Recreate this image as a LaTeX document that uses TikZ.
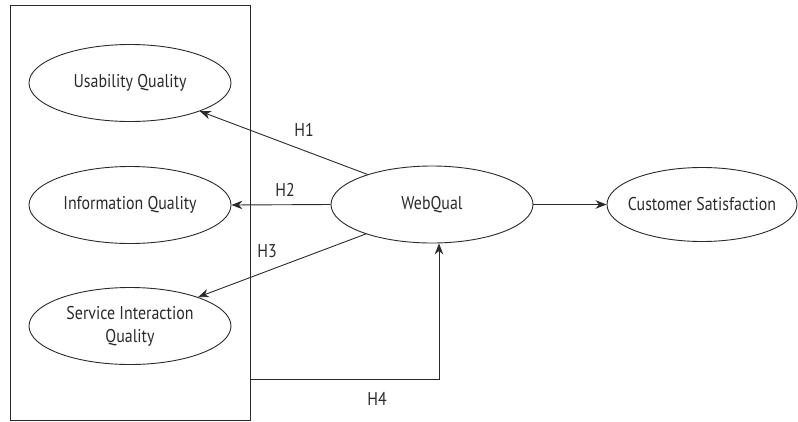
\documentclass[tikz,border=0pt]{standalone}
\usepackage{fontspec}
\setmainfont{PT Sans}[FakeStretch=0.86]
\usetikzlibrary{shapes.geometric,arrows.meta}
\definecolor{ink}{HTML}{2A2A2A}
\tikzset{
  oval/.style={ellipse,draw=ink,line width=0.9pt,minimum width=202pt,minimum height=77pt,inner sep=0pt,text=ink,font=\fontsize{18.5}{23}\selectfont,align=center},
  arr/.style={draw=ink,line width=0.9pt,-{Stealth[length=11pt,width=8.5pt]}},
  lab/.style={text=ink,font=\fontsize{18.5}{20}\selectfont,inner sep=0pt}
}
\begin{document}
\begin{tikzpicture}[x=1pt,y=-1pt]
\useasboundingbox (0,0) rectangle (798,421);
\node[draw=ink,line width=0.9pt,minimum width=240pt,minimum height=415pt,inner sep=0pt] (box) at (130,212.5) {};
\node[oval] (usab) at (130,83) {Usability Quality};
\node[oval] (info) at (130,205) {Information Quality};
\node[oval] (serv) at (130,326) {Service Interaction\\Quality};
\node[oval] (web) at (432,204.5) {WebQual};
\node[oval,minimum width=190pt,minimum height=74pt,inner xsep=-9pt] (cust) at (702,204.5) {Customer Satisfaction};
\draw[arr] (web.155) -- (usab.-22);
\draw[arr] (web.west) -- (info.east);
\draw[arr] (web.204) -- (serv.23);
\draw[arr] (web.east) -- (cust.west);
\coordinate (h4s) at (250,379);
\draw[arr] (h4s) -| ([xshift=7pt]web.south);
\node[lab] (h1) at (304,130) {H1};
\node[lab] (h2) at (285,190) {H2};
\node[lab] (h3) at (267,251) {H3};
\node[lab] (h4) at (377,399) {H4};
\end{tikzpicture}
\end{document}
